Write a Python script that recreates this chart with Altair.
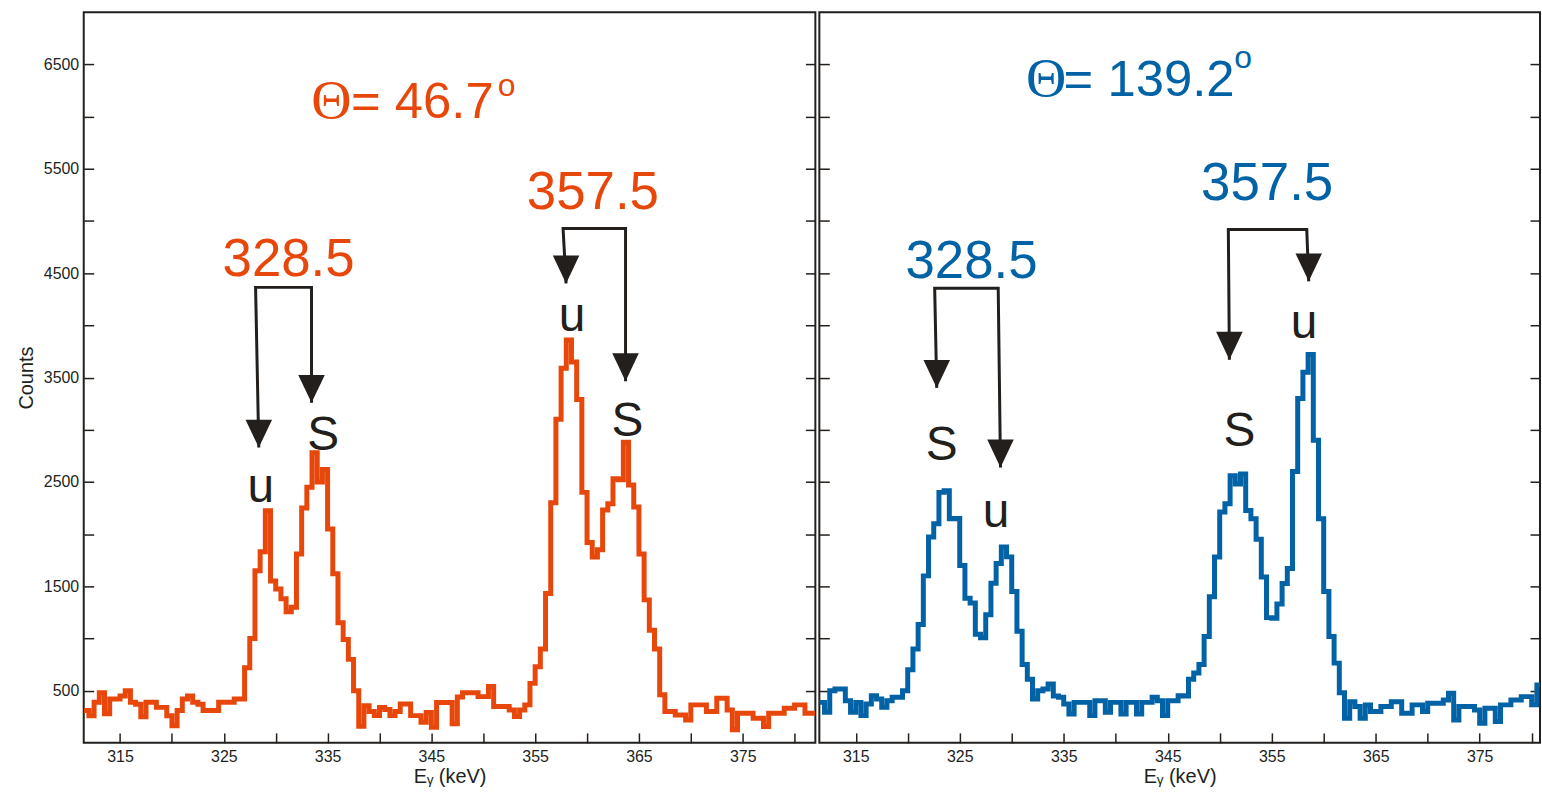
import altair as alt
import pandas as pd

# ---------------- data ----------------
BIN_START = 311.5
BIN_WIDTH = 0.5

left_counts = [
    310, 260, 390, 480, 280, 420, 420, 450, 500, 390,
    370, 250, 390, 390, 340, 340, 260, 165, 310, 420,
    450, 390, 370, 310, 310, 310, 390, 390, 390, 420,
    420, 720, 1000, 1650, 1830, 2225, 1550, 1475, 1380, 1255,
    1300, 1810, 2250, 2450, 2780, 2500, 2620, 2050, 1620, 1150,
    990, 800, 500, 160, 356, 300, 261, 340, 320, 261,
    300, 372, 372, 261, 261, 197, 292, 150, 387, 387,
    387, 182, 440, 480, 480, 480, 443, 443, 539, 348,
    348, 348, 316, 253, 316, 364, 570, 730, 900, 1430,
    2300, 3100, 3590, 3860, 3650, 3290, 2400, 1920, 1780, 1850,
    2230, 2290, 2530, 2520, 2880, 2470, 2260, 1810, 1370, 1080,
    900, 460, 300, 300, 268, 268, 220, 364, 364, 364,
    300, 300, 427, 427, 316, 125, 284, 284, 284, 237,
    237, 157, 284, 284, 284, 332, 332, 364, 364, 284,
    284,
]

right_counts = [
    388, 293, 499, 515, 515, 404, 293, 388, 261, 372,
    452, 420, 340, 404, 436, 436, 500, 700, 900, 1133,
    1600, 1972, 2100, 2400, 2416, 2147, 2150, 1700, 1386, 1340,
    1040, 1006, 1228, 1530, 1719, 1877, 1782, 1450, 1070, 750,
    610, 420, 499, 515, 563, 450, 436, 372, 277, 388,
    388, 388, 261, 404, 404, 293, 388, 388, 277, 388,
    388, 277, 388, 388, 436, 404, 261, 404, 404, 452,
    450, 610, 670, 750, 1020, 1400, 1780, 2211, 2290, 2560,
    2480, 2576, 2226, 2147, 1950, 1590, 1200, 1193, 1330, 1527,
    1670, 2600, 3300, 3550, 3721, 2900, 2147, 1450, 1018, 764,
    480, 235, 395, 348, 235, 364, 300, 300, 348, 348,
    395, 395, 284, 284, 364, 364, 300, 380, 380, 380,
    411, 475, 220, 348, 348, 348, 316, 189, 332, 332,
    205, 364, 364, 411, 411, 443, 443, 364, 554,
]

# annotation texts
left_peak_labels = ["328.5", "357.5"]
left_peak_x = [331.24, 360.56]
left_peak_y = [4470, 5118]
right_peak_labels = ["328.5", "357.5"]
right_peak_x = [326.13, 354.56]
right_peak_y = [4450, 5204]

left_us_labels = ["u", "S", "u", "S"]
left_us_x = [328.56, 334.58, 358.55, 363.9]
left_us_y = [2304, 2810, 3945, 2943]
right_us_labels = ["S", "u", "S", "u"]
right_us_x = [323.26, 328.5, 351.9, 358.1]
right_us_y = [2714, 2065, 2848, 3878]

# brackets: left tip, left top, right top, right tip
left_bracket_x = [[328.37, 328.06, 333.45, 333.45], [357.98, 357.69, 363.71, 363.71]]
left_bracket_y = [[2829, 4364, 4364, 3258], [4402, 4927, 4927, 3465]]
right_bracket_x = [[322.79, 322.59, 328.70, 328.92], [350.93, 350.83, 358.37, 358.56]]
right_bracket_y = [[3401, 4355, 4355, 2638], [3671, 4918, 4918, 4422]]

left_theta = {"text": "= 46.7", "theta_x": 333.43, "eq_x": 337.25, "y": 5986, "deg_x": 351.4, "deg_y": 6200}
right_theta = {"text": "= 139.2", "theta_x": 331.37, "eq_x": 334.99, "y": 6196, "deg_x": 351.4, "deg_y": 6470}

x_tick_values = [315, 320, 325, 330, 335, 340, 345, 350, 355, 360, 365, 370, 375, 380]
y_tick_values = [500, 1000, 1500, 2000, 2500, 3000, 3500, 4000, 4500, 5000, 5500, 6000, 6500]

# ---------------- style ----------------
ORANGE = "#E8470C"
BLUE = "#0262A6"
BLACK = "#221F1C"
TICK_FONT = "Liberation Sans"
SANS = "Liberation Sans"
SERIF = "Liberation Serif"
HEIGHT = 733


def spectrum_df(counts):
    e = [BIN_START + BIN_WIDTH * i for i in range(len(counts) + 1)]
    c = list(counts) + [counts[-1]]
    return pd.DataFrame({"E": e, "C": c})


def panel(counts, color, xmax, width, peak_lbl, peak_x, peak_y, us_lbl, us_x, us_y,
          br_x, br_y, theta, show_y_labels):
    x_scale = alt.Scale(domain=[BIN_START, xmax], nice=False, zero=False)
    y_scale = alt.Scale(domain=[0, 7000], nice=False, zero=False)

    x_axis = alt.Axis(
        values=x_tick_values, format="d",
        labelExpr="datum.value % 10 == 5 ? datum.label : ''",
        orient="bottom", offset=-10, tickSize=10, tickWidth=1.5, tickColor=BLACK,
        domain=False, grid=False, labelFont=TICK_FONT, labelFontSize=16,
        labelColor=BLACK, labelPadding=6, title="E\u1d67  (keV)", titleFont=TICK_FONT,
        titleFontSize=20, titleFontWeight="normal", titleColor=BLACK, titlePadding=2,
    )
    if show_y_labels:
        y_axis_left = alt.Axis(
            values=y_tick_values, format="d",
            labelExpr="datum.value % 1000 == 500 ? datum.label : ''",
            orient="left", offset=-10, tickSize=10, tickWidth=1.5, tickColor=BLACK,
            domain=False, grid=False, labelFont=TICK_FONT, labelFontSize=16,
            labelColor=BLACK, labelPadding=5, title="Counts", titleFont=TICK_FONT,
            titleFontSize=20, titleFontWeight="normal", titleColor=BLACK, titlePadding=7,
        )
    else:
        y_axis_left = alt.Axis(
            values=y_tick_values, orient="left", offset=-10, tickSize=10, tickWidth=1.5,
            tickColor=BLACK, domain=False, grid=False, labels=False, title=None,
        )
    y_axis_right = alt.Axis(
        values=y_tick_values, orient="right", offset=-10, tickSize=10, tickWidth=1.5,
        tickColor=BLACK, domain=False, grid=False, labels=False, title=None,
    )

    line = alt.Chart(spectrum_df(counts)).mark_line(
        interpolate="step-after", color=color, strokeWidth=5, clip=True
    ).encode(
        x=alt.X("E:Q", scale=x_scale, axis=x_axis),
        y=alt.Y("C:Q", scale=y_scale, axis=y_axis_left),
    )

    rows = []
    for b, (xs, ys) in enumerate(zip(br_x, br_y)):
        for k, (xv, yv) in enumerate(zip(xs, ys)):
            rows.append({"E": xv, "C": yv, "b": b, "k": k})
    br_df = pd.DataFrame(rows)
    brackets = alt.Chart(br_df).mark_line(
        color=BLACK, strokeWidth=3, strokeJoin="miter", strokeCap="butt"
    ).encode(
        x=alt.X("E:Q", scale=x_scale, axis=x_axis),
        y=alt.Y("C:Q", scale=y_scale, axis=None),
        detail="b:N", order="k:Q",
    )
    tips_df = br_df[br_df["k"].isin([0, 3])]
    heads = alt.Chart(tips_df).mark_point(
        shape="M-0.95,-2L0.95,-2L0,0Z", size=784, filled=True, opacity=1,
        color=BLACK, strokeWidth=0,
    ).encode(
        x=alt.X("E:Q", scale=x_scale, axis=x_axis),
        y=alt.Y("C:Q", scale=y_scale, axis=None),
    )

    peak_df = pd.DataFrame({"E": peak_x, "C": peak_y, "t": peak_lbl})
    peaks = alt.Chart(peak_df).mark_text(
        font=SANS, fontSize=53, color=color, align="center", baseline="alphabetic"
    ).encode(
        x=alt.X("E:Q", scale=x_scale, axis=x_axis),
        y=alt.Y("C:Q", scale=y_scale, axis=y_axis_right),
        text="t:N",
    )

    us_df = pd.DataFrame({"E": us_x, "C": us_y, "t": us_lbl})
    us = alt.Chart(us_df).mark_text(
        font=SANS, fontSize=48, color=BLACK, align="center", baseline="alphabetic"
    ).encode(
        x=alt.X("E:Q", scale=x_scale, axis=x_axis),
        y=alt.Y("C:Q", scale=y_scale, axis=None),
        text="t:N",
    )

    th_df = pd.DataFrame({"E": [theta["theta_x"]], "C": [theta["y"]], "t": ["\u0398"]})
    th = alt.Chart(th_df).mark_text(
        font=SERIF, fontSize=56, color=color, align="left", baseline="alphabetic"
    ).encode(
        x=alt.X("E:Q", scale=x_scale, axis=x_axis),
        y=alt.Y("C:Q", scale=y_scale, axis=None),
        text="t:N",
    )
    eq_df = pd.DataFrame({"E": [theta["eq_x"]], "C": [theta["y"]], "t": [theta["text"]]})
    eq = alt.Chart(eq_df).mark_text(
        font=SANS, fontSize=51, color=color, align="left", baseline="alphabetic"
    ).encode(
        x=alt.X("E:Q", scale=x_scale, axis=x_axis),
        y=alt.Y("C:Q", scale=y_scale, axis=None),
        text="t:N",
    )
    deg_df = pd.DataFrame({"E": [theta["deg_x"]], "C": [theta["deg_y"]], "t": ["o"]})
    deg = alt.Chart(deg_df).mark_text(
        font=SANS, fontSize=32, color=color, align="left", baseline="alphabetic"
    ).encode(
        x=alt.X("E:Q", scale=x_scale, axis=x_axis),
        y=alt.Y("C:Q", scale=y_scale, axis=None),
        text="t:N",
    )

    return alt.layer(line, brackets, heads, peaks, us, th, eq, deg).resolve_axis(
        y="independent"
    ).properties(width=width, height=HEIGHT)


left = panel(left_counts, ORANGE, 382.0, 734, left_peak_labels, left_peak_x, left_peak_y,
             left_us_labels, left_us_x, left_us_y, left_bracket_x, left_bracket_y,
             left_theta, True)
right = panel(right_counts, BLUE, 380.8, 723, right_peak_labels, right_peak_x, right_peak_y,
              right_us_labels, right_us_x, right_us_y, right_bracket_x, right_bracket_y,
              right_theta, False)

chart = alt.hconcat(left, right, spacing=0).properties(
    padding={"left": 15, "top": 10, "right": 0, "bottom": 0},
    background="white",
).configure_view(stroke=BLACK, strokeWidth=2)

chart.save("out.html", embed_options={"renderer": "svg", "actions": False})
